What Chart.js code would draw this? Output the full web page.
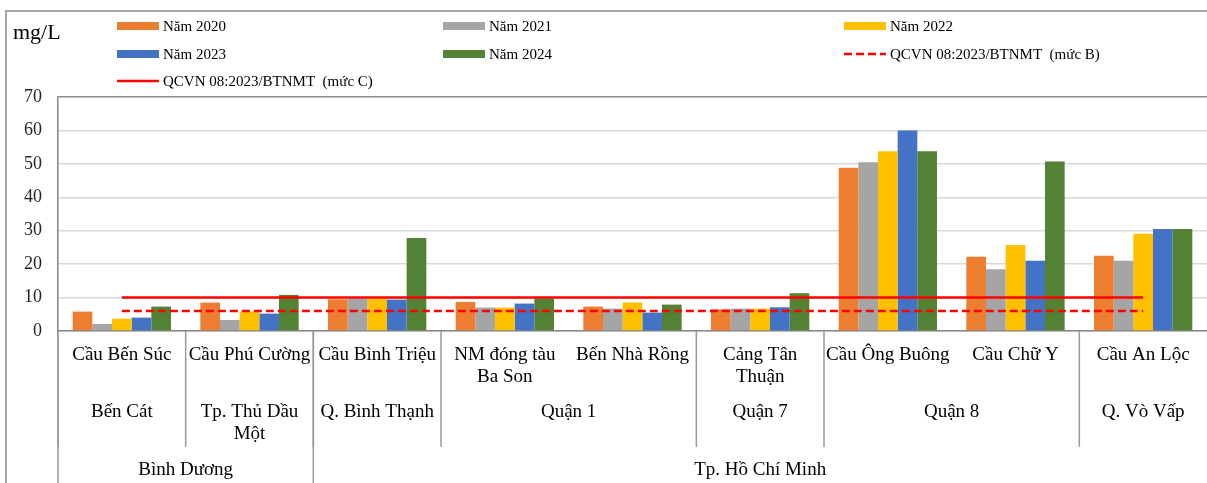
<!DOCTYPE html>
<html>
<head>
<meta charset="utf-8">
<script src="https://cdn.jsdelivr.net/npm/chart.js@4.4.1/dist/chart.umd.min.js"></script>
<style>
  html, body { margin: 0; padding: 0; background: #fff; }
</style>
</head>
<body>
<canvas id="myChart" width="1207" height="483"></canvas>
<script>
// station labels (lines wrapped like the original)
const stations = [
  ['Cầu Bến Súc'], ['Cầu Phú Cường'], ['Cầu Bình Triệu'], ['NM đóng tàu', 'Ba Son'],
  ['Bến Nhà Rồng'], ['Cảng Tân', 'Thuận'], ['Cầu Ông Buông'], ['Cầu Chữ Y'], ['Cầu An Lộc']
];
const districtNames = [['Bến Cát'], ['Tp. Thủ Dầu', 'Một'], ['Q. Bình Thạnh'], ['Quận 1'], ['Quận 7'], ['Quận 8'], ['Q. Vò Vấp']];
const districtSpans = [1, 1, 1, 2, 1, 2, 1];
const provinceNames = ['Bình Dương', 'Tp. Hồ Chí Minh'];
const provinceSpans = [2, 7];

const y2020 = [5.8, 8.5, 9.5, 8.7, 7.3, 6.5, 48.8, 22.2, 22.5];
const y2021 = [2.1, 3.3, 9.6, 7.0, 6.7, 6.7, 50.5, 18.5, 21.0];
const y2022 = [3.7, 5.8, 9.6, 7.0, 8.5, 6.7, 53.8, 25.7, 29.1];
const y2023 = [4.0, 5.2, 9.4, 8.2, 5.5, 7.1, 60.0, 21.0, 30.5];
const y2024 = [7.3, 10.8, 27.8, 9.7, 7.9, 11.3, 53.8, 50.7, 30.5];
const limitB = [6, 6, 6, 6, 6, 6, 6, 6, 6];
const limitC = [10, 10, 10, 10, 10, 10, 10, 10, 10];

const FONT = '"Liberation Serif", "Times New Roman", serif';

function bar(label, data, color) {
  return { type: 'bar', label, data, backgroundColor: color, order: 1 };
}
function limitLine(label, data, dash) {
  return {
    type: 'line', label, data, borderColor: '#ff0000', borderWidth: 2.5,
    borderDash: dash, pointRadius: 0, order: 0
  };
}

// frame, legend, multi-level category labels
const decorations = {
  id: 'decorations',
  beforeDraw(chart) {
    const c = chart.ctx;
    c.save();
    c.strokeStyle = '#a6a6a6';
    c.lineWidth = 2;
    c.beginPath();
    c.moveTo(6, 483);
    c.lineTo(6, 11);
    c.lineTo(1207, 11);
    c.stroke();
    c.restore();
  },
  afterDraw(chart) {
    const c = chart.ctx;
    const xs = chart.scales.x;
    const area = chart.chartArea;
    const n = stations.length;
    const w = (area.right - area.left) / n;
    c.save();

    // unit
    c.fillStyle = '#000';
    c.font = '22px ' + FONT;
    c.textBaseline = 'middle';
    c.textAlign = 'left';
    c.fillText('mg/L', 13, 33);

    // legend, 3 columns
    const colX = [117, 443, 844];
    const rowY = [26, 54, 81];
    c.font = '15px ' + FONT;
    chart.data.datasets.forEach((ds, i) => {
      const x = colX[i % 3];
      const y = rowY[Math.floor(i / 3)];
      if (ds.type === 'bar') {
        c.fillStyle = ds.backgroundColor;
        c.fillRect(x, y - 4, 42, 8);
      } else {
        c.strokeStyle = ds.borderColor;
        c.lineWidth = 2.5;
        c.setLineDash(ds.borderDash || []);
        c.beginPath();
        c.moveTo(x, y);
        c.lineTo(x + 42, y);
        c.stroke();
        c.setLineDash([]);
      }
      c.fillStyle = '#000';
      c.fillText(ds.label, x + 46, y + 1);
    });

    // station row
    c.textAlign = 'center';
    c.font = '19px ' + FONT;
    stations.forEach((lines, i) => {
      const cx = xs.getPixelForValue(i);
      lines.forEach((t, k) => c.fillText(t, cx, 355 + k * 22));
    });

    // district row + separators
    c.strokeStyle = '#999';
    c.lineWidth = 1.5;
    let start = 0;
    districtNames.forEach((lines, d) => {
      const x0 = area.left + start * w;
      const x1 = x0 + districtSpans[d] * w;
      c.beginPath();
      c.moveTo(x0, area.bottom);
      c.lineTo(x0, 447);
      c.stroke();
      lines.forEach((t, k) => c.fillText(t, (x0 + x1) / 2, 412 + k * 22));
      start += districtSpans[d];
    });

    // province row + separators
    start = 0;
    provinceNames.forEach((t, p) => {
      const x0 = area.left + start * w;
      const x1 = x0 + provinceSpans[p] * w;
      c.beginPath();
      c.moveTo(x0, area.bottom);
      c.lineTo(x0, 483);
      c.stroke();
      c.fillText(t, (x0 + x1) / 2, 470);
      start += provinceSpans[p];
    });
    c.restore();
  }
};

const ctx = document.getElementById('myChart');
const chart = new Chart(ctx, {
  data: {
    labels: stations.map(s => s.join(' ')),
    datasets: [
      bar('Năm 2020', y2020, '#ed7d31'),
      bar('Năm 2021', y2021, '#a5a5a5'),
      bar('Năm 2022', y2022, '#ffc000'),
      bar('Năm 2023', y2023, '#4472c4'),
      bar('Năm 2024', y2024, '#548235'),
      limitLine('QCVN 08:2023/BTNMT  (mức B)', limitB, [8, 4]),
      limitLine('QCVN 08:2023/BTNMT  (mức C)', limitC, [])
    ]
  },
  options: {
    responsive: false,
    animation: false,
    devicePixelRatio: 1,
    layout: { padding: { top: 97, left: 0, right: 0, bottom: 0 } },
    datasets: {
      bar: { categoryPercentage: 0.77, barPercentage: 1.0 }
    },
    scales: {
      x: {
        offset: true,
        grid: { display: false },
        ticks: { display: false },
        border: { display: true, color: '#868686', width: 1.5 },
        afterFit(scale) { scale.height = 152; }
      },
      y: {
        min: 0,
        max: 70,
        ticks: {
          stepSize: 10,
          padding: 16,
          color: '#262626',
          font: { family: FONT, size: 18 }
        },
        grid: {
          drawTicks: false,
          lineWidth: 1.5,
          color: (c) => c.tick && c.tick.value === 70 ? '#8c8c8c' : '#d9d9d9'
        },
        border: { display: true, color: '#868686', width: 1.5 },
        afterFit(scale) { scale.width = 58; }
      }
    },
    plugins: {
      legend: { display: false },
      tooltip: { enabled: false }
    }
  },
  plugins: [decorations]
});
</script>
</body>
</html>
